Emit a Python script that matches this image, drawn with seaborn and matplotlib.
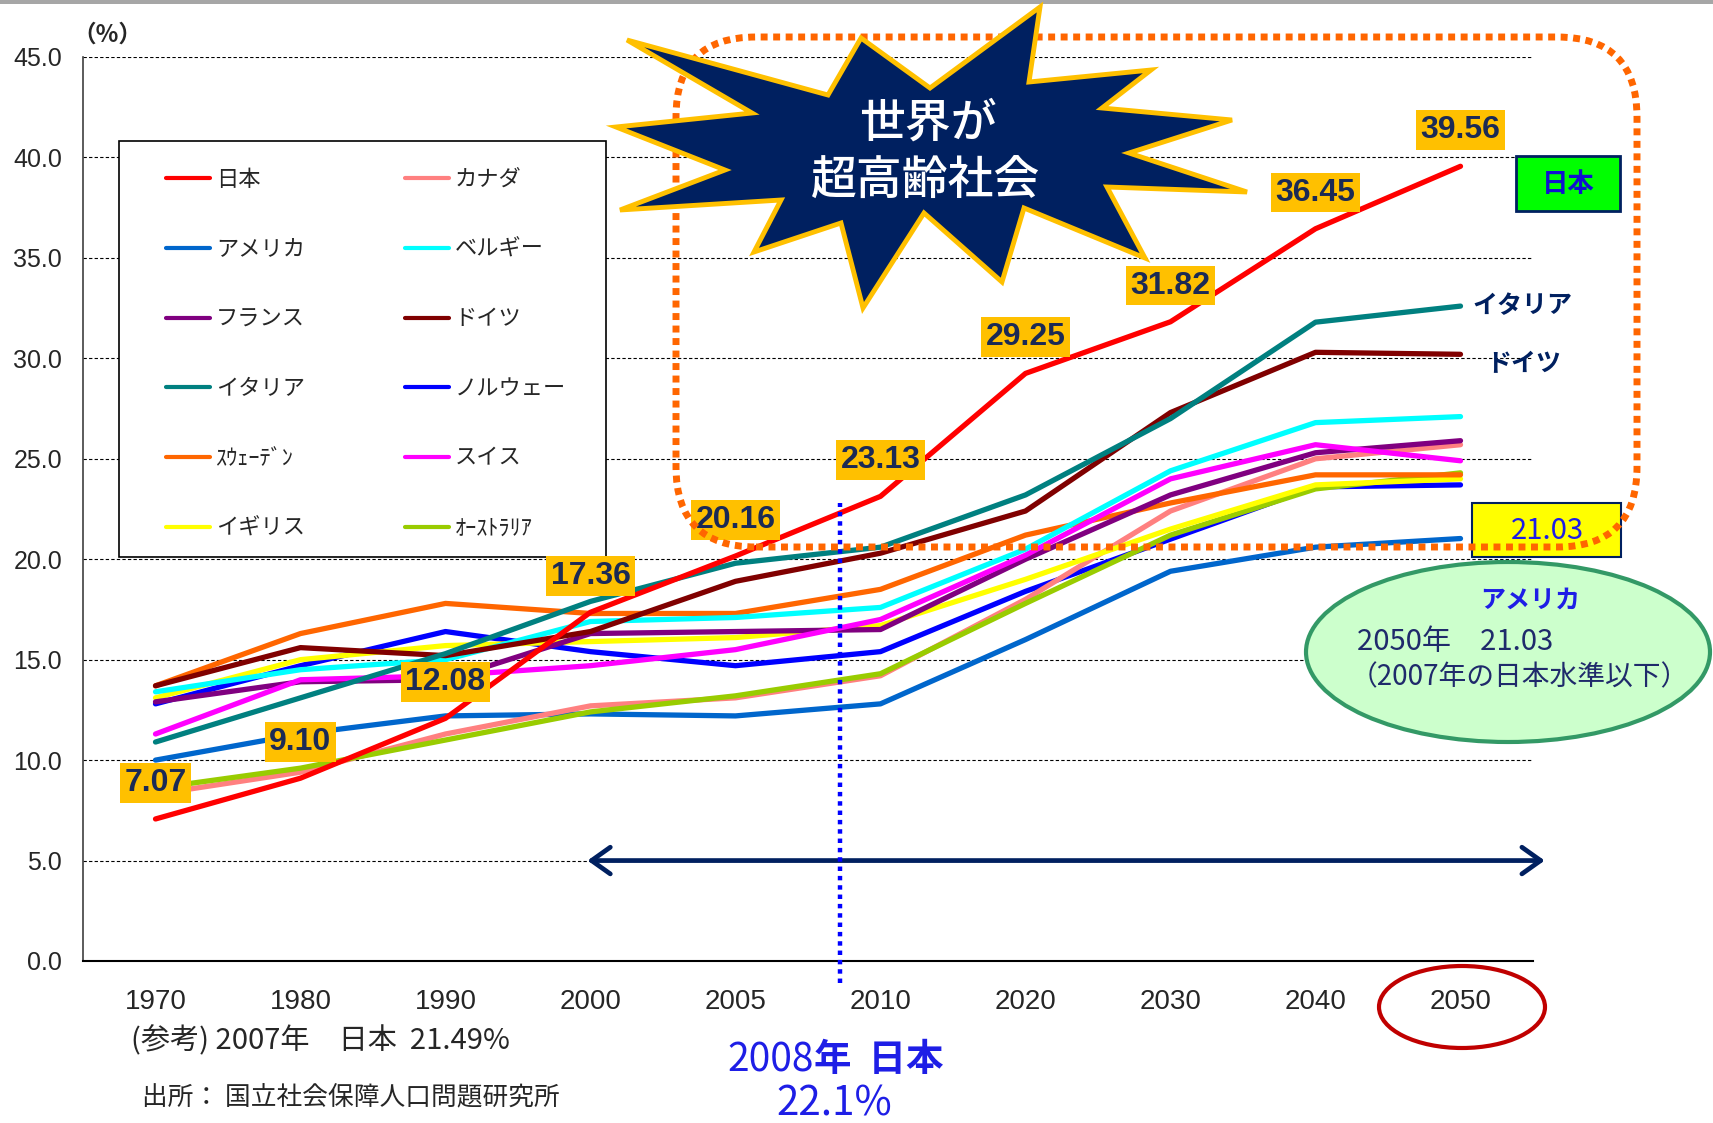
import numpy as np
import pandas as pd
import matplotlib
matplotlib.use("Agg")
import matplotlib.pyplot as plt
import seaborn as sns
from matplotlib.patches import Polygon, FancyBboxPatch, Ellipse, Rectangle
from matplotlib.lines import Line2D

# --- datos ---
years = ["1970", "1980", "1990", "2000", "2005", "2010", "2020", "2030", "2040", "2050"]

japan = [7.07, 9.10, 12.08, 17.36, 20.16, 23.13, 29.25, 31.82, 36.45, 39.56]
america = [10.0, 11.3, 12.2, 12.3, 12.2, 12.8, 16.0, 19.4, 20.6, 21.03]
france = [12.9, 13.9, 14.0, 16.3, 16.4, 16.5, 20.0, 23.2, 25.3, 25.9]
italy = [10.9, 13.1, 15.3, 17.9, 19.8, 20.6, 23.2, 27.0, 31.8, 32.6]
sweden = [13.7, 16.3, 17.8, 17.3, 17.3, 18.5, 21.2, 22.8, 24.2, 24.2]
uk = [13.1, 15.0, 15.7, 15.9, 16.1, 16.7, 19.0, 21.5, 23.7, 24.0]
canada = [8.3, 9.4, 11.3, 12.7, 13.1, 14.2, 18.0, 22.4, 25.0, 25.7]
belgium = [13.4, 14.5, 15.0, 16.9, 17.1, 17.6, 20.5, 24.4, 26.8, 27.1]
germany = [13.7, 15.6, 15.2, 16.4, 18.9, 20.3, 22.4, 27.3, 30.3, 30.2]
norway = [12.8, 14.7, 16.4, 15.4, 14.7, 15.4, 18.4, 21.0, 23.6, 23.7]
switzerland = [11.3, 14.0, 14.2, 14.7, 15.5, 17.0, 20.2, 24.0, 25.7, 24.9]
australia = [8.6, 9.6, 11.0, 12.4, 13.2, 14.3, 17.8, 21.2, 23.5, 24.3]

series = {
    "日本": japan, "アメリカ": america, "フランス": france, "イタリア": italy,
    "ｽｳｪｰﾃﾞﾝ": sweden, "イギリス": uk, "カナダ": canada, "ベルギー": belgium,
    "ドイツ": germany, "ノルウェー": norway, "スイス": switzerland, "ｵｰｽﾄﾗﾘｱ": australia,
}
legend_order = ["日本", "アメリカ", "フランス", "イタリア", "ｽｳｪｰﾃﾞﾝ", "イギリス",
                "カナダ", "ベルギー", "ドイツ", "ノルウェー", "スイス", "ｵｰｽﾄﾗﾘｱ"]
draw_order = ["アメリカ", "ノルウェー", "カナダ", "ｵｰｽﾄﾗﾘｱ", "イギリス", "ｽｳｪｰﾃﾞﾝ",
              "フランス", "スイス", "ベルギー", "ドイツ", "イタリア", "日本"]
palette = {
    "日本": "#FF0000", "アメリカ": "#0066CC", "フランス": "#800080", "イタリア": "#008080",
    "ｽｳｪｰﾃﾞﾝ": "#FF6600", "イギリス": "#FFFF00", "カナダ": "#FF8080", "ベルギー": "#00FFFF",
    "ドイツ": "#800000", "ノルウェー": "#0000FF", "スイス": "#FF00FF", "ｵｰｽﾄﾗﾘｱ": "#99CC00",
}

df = pd.DataFrame([(y, v, c) for c, vals in series.items() for y, v in zip(years, vals)],
                  columns=["year", "share", "country"])

# --- estilo ---
sns.set_style("white")
plt.rcParams["font.family"] = ["Noto Sans CJK JP", "DejaVu Sans"]
latin = ["Liberation Sans", "DejaVu Sans"]

W, H = 1713, 1123
navy = "#002060"
blue_txt = "#1E1EE6"


def fxy(x, y):
    return (x / W, 1 - y / H)


def ixy(x, y):
    return (x / 100, (H - y) / 100)


fig = plt.figure(figsize=(W / 100, H / 100), dpi=100)
ax = fig.add_axes([83 / W, 1 - 961 / H, 1450 / W, 904 / H])

sns.lineplot(data=df, x="year", y="share", hue="country", hue_order=draw_order,
             palette=palette, linewidth=3.8, legend=False, sort=False,
             errorbar=None, ax=ax)

ax.set_xlim(-0.5, 9.5)
ax.set_ylim(0, 45)
ax.set_xlabel("")
ax.set_ylabel("")
ax.set_yticks(np.arange(0, 46, 5))
ax.set_yticklabels([f"{v:.1f}" for v in np.arange(0, 46, 5)], family=latin, fontsize=18)
ax.set_xticks(range(len(years)))
ax.set_xticklabels(years, family=latin, fontsize=20)
ax.set_xticks(np.arange(0.5, 10, 1), minor=True)
ax.tick_params(axis="y", length=0, pad=15)
ax.tick_params(axis="x", which="major", length=0, pad=20)
ax.tick_params(axis="x", which="minor", direction="in", length=7, width=1, color="black")
ax.yaxis.grid(True, color="black", linestyle=(0, (3, 2)), linewidth=0.8)
ax.xaxis.grid(False)
for s in ["top", "right"]:
    ax.spines[s].set_visible(False)
ax.spines["left"].set_color("#404040")
ax.spines["left"].set_linewidth(1.2)
ax.spines["bottom"].set_color("black")
ax.spines["bottom"].set_linewidth(1.5)

# etiquetas de Japón
for i, v in enumerate(japan):
    ax.text(i, v + 1.8, f"{v:.2f}", ha="center", va="center", family=latin,
            fontweight="bold", fontsize=23, color="#1B2A55", zorder=6,
            bbox=dict(boxstyle="square,pad=0.15", fc="#FFC000", ec="none"))

# leyenda (marco dibujado aparte)
ax.add_patch(Rectangle(fxy(119, 557), 487 / W, 416 / H, transform=fig.transFigure,
                       fc="white", ec="black", lw=1.2, clip_on=False, zorder=4))
handles = [Line2D([0], [0], color=palette[c], lw=3) for c in legend_order]
leg = ax.legend(handles, legend_order, ncol=2, loc="upper left",
                bbox_to_anchor=(166 / W, 1 - 304 / H, 400 / W, 136 / H),
                bbox_transform=fig.transFigure, mode="expand", borderaxespad=0,
                frameon=False, fontsize=16, handlelength=2.0, handletextpad=0.25,
                labelspacing=2.1, borderpad=0)
leg.set_zorder(5)

# flecha doble y línea 2008
ax.annotate("", xy=(9.6, 5), xytext=(2.96, 5), annotation_clip=False,
            arrowprops=dict(arrowstyle="<->,head_length=0.45,head_width=0.32",
                            color=navy, lw=3.4, mutation_scale=30))
ax.plot([4.72, 4.72], [-1.1, 22.8], color="#0000FF", lw=3.2,
        linestyle=(0, (1, 1.1)), clip_on=False, zorder=5)

# cuadros a la derecha
fig.add_artist(Rectangle(ixy(1472, 557), 1.49, 0.54, transform=fig.dpi_scale_trans,
                         fc="#FFFF00", ec=navy, lw=1.5, zorder=2))
fig.text(*fxy(1547, 531), f"{america[-1]:.2f}", ha="center", va="center",
         fontsize=21, color=blue_txt, zorder=3)

fig.add_artist(FancyBboxPatch(ixy(676, 547), 9.61, 5.10,
                              boxstyle="round,pad=0,rounding_size=0.8",
                              transform=fig.dpi_scale_trans, fill=False,
                              ec="#FF6600", lw=5, linestyle=(0, (1, 0.8)), zorder=4))

fig.add_artist(Rectangle(ixy(1516, 211), 1.04, 0.55, transform=fig.dpi_scale_trans,
                         fc="#00FF00", ec=navy, lw=2, zorder=2))
fig.text(*fxy(1568, 184), "日本", ha="center", va="center", fontsize=19,
         fontweight="bold", color="#1010D0", zorder=3)
fig.text(*fxy(1522, 306), "イタリア", ha="center", va="center", fontsize=18,
         fontweight="bold", color=navy)
fig.text(*fxy(1524, 364), "ドイツ", ha="center", va="center", fontsize=18,
         fontweight="bold", color=navy)

fig.add_artist(Ellipse(ixy(1508, 652), 4.04, 1.80, transform=fig.dpi_scale_trans,
                       fc="#CCFFCC", ec="#339966", lw=3, zorder=2))
fig.text(*fxy(1530, 601), "アメリカ", ha="center", va="center", fontsize=18,
         fontweight="bold", color=blue_txt, zorder=3)
fig.text(*fxy(1357, 642), f"2050年　{america[-1]:.2f}", ha="left", va="center",
         fontsize=21, color="#1F2A6B", zorder=3)
fig.text(*fxy(1350, 677), "（2007年の日本水準以下）", ha="left", va="center",
         fontsize=20, color="#1F2A6B", zorder=3)

fig.add_artist(Ellipse(ixy(1462, 1007), 1.66, 0.82, transform=fig.dpi_scale_trans,
                       fill=False, ec="#C00000", lw=3, zorder=2))

# estrella
star_px = [(1040, 7), (1029, 82), (1151, 70), (1102, 108), (1232, 120), (1129, 153),
           (1247, 192), (1107, 187), (1145, 258), (1024, 208), (1002, 282), (924, 213),
           (863, 308), (841, 223), (754, 252), (781, 200), (620, 210), (725, 170),
           (616, 127), (752, 113), (627, 40), (828, 95), (861, 38), (930, 88)]
fig.add_artist(Polygon([ixy(x, y) for x, y in star_px], closed=True,
                       transform=fig.dpi_scale_trans, fc=navy, ec="#FFC000",
                       lw=3.5, joinstyle="miter", zorder=5))
fig.text(*fxy(928, 123), "世界が", ha="center", va="center", fontsize=33,
         fontweight="medium", color="white", zorder=6)
fig.text(*fxy(926, 181), "超高齢社会", ha="center", va="center", fontsize=33,
         fontweight="medium", color="white", zorder=6)

# textos inferiores
fig.text(*fxy(107, 35), "（%）", ha="center", va="center", fontsize=17, fontweight="bold")
fig.text(*fxy(131, 1041), "(参考) 2007年　日本  21.49%", ha="left", va="center",
         fontsize=21)
fig.text(*fxy(142, 1098), "出所： 国立社会保障人口問題研究所", ha="left", va="center",
         fontsize=18.5)
fig.text(*fxy(814, 1060), "2008", ha="right", va="center", fontsize=28, color=blue_txt)
fig.text(*fxy(814, 1060), "年  日本", ha="left", va="center", fontsize=27,
         fontweight="bold", color=blue_txt)
fig.text(*fxy(834, 1104), "22.1%", ha="center", va="center", fontsize=29, color=blue_txt)

fig.add_artist(Rectangle((0, (H - 4) / 100), W / 100, 0.04, transform=fig.dpi_scale_trans,
                         fc="#A6A6A6", ec="none"))

fig.savefig("out.png", dpi=100)
